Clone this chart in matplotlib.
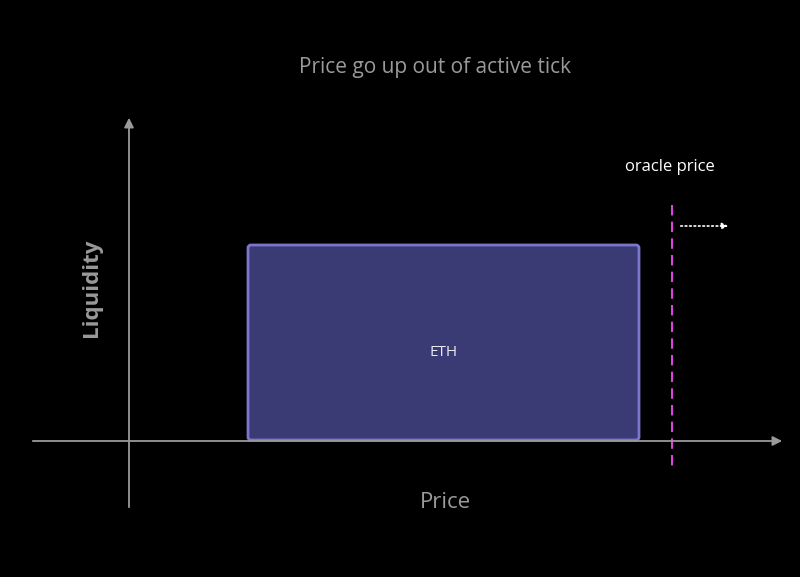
import matplotlib.pyplot as plt
from matplotlib.patches import FancyBboxPatch

plt.rcParams['font.family'] = ['Open Sans', 'DejaVu Sans']

title = "Price go up out of active tick"
x_label = "Price"
y_label = "Liquidity"
band_label = "ETH"
oracle_label = "oracle price"

# liquidity band (price range, liquidity height) in diagram units
band_lo, band_hi, band_liq = 248, 639, 196
oracle_px = 672

fig = plt.figure(figsize=(8, 5.77), dpi=100, facecolor="black")
ax = fig.add_axes([0, 0, 1, 1])
ax.set_facecolor("black")
ax.set_xlim(0, 800)
ax.set_ylim(577, 0)
ax.axis("off")

base = 441
grey = "#9a9a9a"
ax.annotate("", xy=(785, base), xytext=(30, base),
            arrowprops=dict(arrowstyle="-|>", color=grey, lw=1.3, mutation_scale=14))
ax.annotate("", xy=(129, 115), xytext=(129, 510),
            arrowprops=dict(arrowstyle="-|>", color=grey, lw=1.3, mutation_scale=14))

rect = FancyBboxPatch((band_lo, base - band_liq), band_hi - band_lo, band_liq - 1,
                      boxstyle="round,pad=0,rounding_size=3",
                      facecolor="#3a3a75", edgecolor="#7d75cc", lw=2)
ax.add_patch(rect)
ax.text((band_lo + band_hi) / 2, 352, band_label, color="#e8e8f0",
        fontsize=11, ha="center", va="center")

ax.plot([oracle_px, oracle_px], [205, 466], color="#e040e0", lw=1.5, ls=(0, (5, 3)))
ax.annotate("", xy=(731, 226), xytext=(678, 226),
            arrowprops=dict(arrowstyle="-|>", color="white", lw=1.2, ls=":", mutation_scale=9))
ax.text(670, 167, oracle_label, color="white", fontsize=12, ha="center", va="center")

ax.text(435, 68, title, color=grey, fontsize=15, ha="center", va="center")
ax.text(445, 503, x_label, color=grey, fontsize=16, ha="center", va="center")
ax.text(92, 288, y_label, color=grey, fontsize=16, ha="center", va="center",
        rotation=90, fontweight="bold")

fig.savefig("out.png", dpi=100, facecolor="black")
